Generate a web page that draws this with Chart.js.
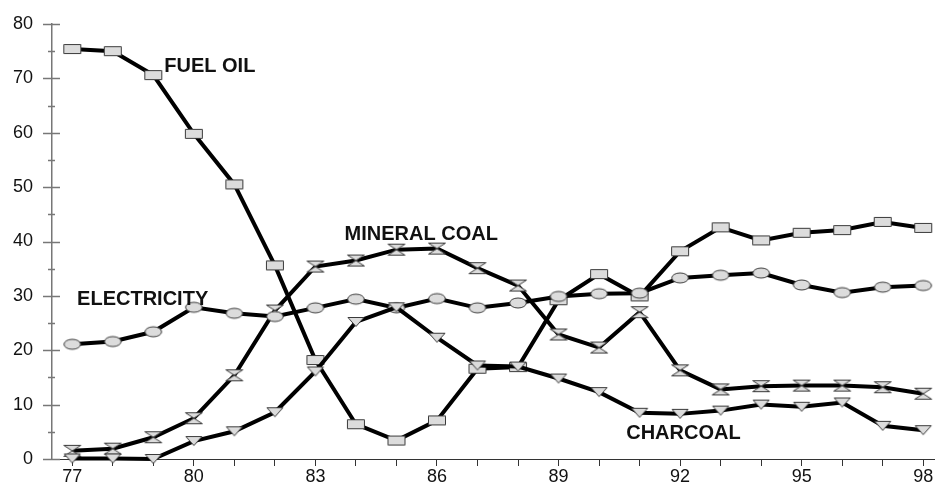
<!DOCTYPE html>
<html>
<head>
<meta charset="utf-8">
<script src="https://cdn.jsdelivr.net/npm/chart.js@4.4.1/dist/chart.umd.min.js"></script>
<style>
  html, body { margin: 0; padding: 0; background: #fff; }
</style>
</head>
<body>
<canvas id="chart" width="935" height="485"></canvas>
<script>
const years = [77, 78, 79, 80, 81, 82, 83, 84, 85, 86, 87, 88, 89, 90, 91, 92, 93, 94, 95, 96, 97, 98];
const fuelOil     = [75.4, 75.0, 70.6, 59.8, 50.5, 35.6, 18.2, 6.4, 3.4, 7.1, 16.6, 16.9, 29.2, 34.0, 29.9, 38.2, 42.6, 40.2, 41.6, 42.1, 43.6, 42.5];
const electricity = [21.1, 21.6, 23.4, 27.9, 26.8, 26.2, 27.8, 29.4, 27.8, 29.5, 27.8, 28.7, 29.9, 30.4, 30.5, 33.3, 33.8, 34.2, 32.0, 30.6, 31.6, 31.9];
const mineralCoal = [1.5, 1.9, 4.0, 7.5, 15.4, 27.3, 35.4, 36.5, 38.5, 38.7, 35.1, 31.9, 22.9, 20.5, 27.0, 16.3, 12.8, 13.4, 13.5, 13.5, 13.2, 12.0];
const charcoal    = [0.1, 0.1, 0.0, 3.3, 5.1, 8.6, 16.1, 25.2, 27.9, 22.3, 17.2, 17.0, 14.8, 12.3, 8.5, 8.3, 8.9, 10.0, 9.6, 10.4, 6.1, 5.3];
const xTickLabels = [77, 80, 83, 86, 89, 92, 95, 98];
const yTickLabels = [0, 10, 20, 30, 40, 50, 60, 70, 80];

// series names written on the plot, anchored in data units
const seriesNotes = [
  { text: "FUEL OIL",     at: [79.27, 71.1] },
  { text: "MINERAL COAL", at: [83.72, 40.2] },
  { text: "ELECTRICITY",  at: [77.12, 28.4] },
  { text: "CHARCOAL",     at: [90.67, 3.6] }
];

const FONT = '"Liberation Sans", Arial, sans-serif';

function marker(kind) {
  const c = document.createElement("canvas");
  c.width = 20; c.height = 14;
  const g = c.getContext("2d");
  g.fillStyle = "#dcdcdc";
  g.strokeStyle = "#3a3a3a";
  g.lineWidth = 1;
  g.beginPath();
  if (kind === "rect") {
    g.rect(1.5, 2.5, 17, 9);
  } else if (kind === "ellipse") {
    g.ellipse(10, 7, 8.3, 5, 0, 0, Math.PI * 2);
  } else if (kind === "tri") {
    g.moveTo(2, 2.5); g.lineTo(18, 2.5); g.lineTo(10, 11.5); g.closePath();
  } else if (kind === "hour") {
    g.moveTo(1.5, 1.5); g.lineTo(18.5, 1.5); g.lineTo(1.5, 12.5); g.lineTo(18.5, 12.5); g.closePath();
  }
  g.fill();
  g.stroke();
  return c;
}

function series(label, values, kind) {
  return {
    label: label,
    data: years.map((yr, i) => ({ x: yr, y: values[i] })),
    borderColor: "#000",
    borderWidth: 4,
    tension: 0,
    fill: false,
    clip: false,
    pointStyle: marker(kind),
    pointRadius: 9,
    pointHoverRadius: 9
  };
}

const axisMarks = {
  id: "axisMarks",
  beforeDatasetsDraw(chart) {
    const ctx = chart.ctx, ys = chart.scales.y;
    ctx.save();
    ctx.strokeStyle = "#777";
    ctx.lineWidth = 1.5;
    for (let v = 0; v <= 80; v += 5) {
      const py = Math.round(ys.getPixelForValue(v)) + 0.5;
      const major = v % 10 === 0;
      ctx.beginPath();
      ctx.moveTo(ys.right - (major ? 9 : 4), py);
      ctx.lineTo(ys.right + (major ? 8 : 3), py);
      ctx.stroke();
    }
    ctx.restore();
  },
  afterDatasetsDraw(chart) {
    const ctx = chart.ctx, xs = chart.scales.x, ys = chart.scales.y;
    ctx.save();
    ctx.fillStyle = "#111";
    ctx.font = "bold 20px " + FONT;
    ctx.textAlign = "left";
    ctx.textBaseline = "alphabetic";
    for (const n of seriesNotes) {
      ctx.fillText(n.text, xs.getPixelForValue(n.at[0]), ys.getPixelForValue(n.at[1]));
    }
    ctx.restore();
  }
};

new Chart(document.getElementById("chart"), {
  type: "line",
  data: {
    datasets: [
      series("CHARCOAL", charcoal, "tri"),
      series("ELECTRICITY", electricity, "ellipse"),
      series("MINERAL COAL", mineralCoal, "hour"),
      series("FUEL OIL", fuelOil, "rect")
    ]
  },
  options: {
    responsive: false,
    animation: false,
    devicePixelRatio: 1,
    layout: { autoPadding: false, padding: { top: 24, right: 0, left: 0, bottom: 0 } },
    plugins: { legend: { display: false }, tooltip: { enabled: false } },
    scales: {
      x: {
        type: "linear",
        min: 76.5,
        max: 98.29,
        afterBuildTicks: s => { s.ticks = years.map(v => ({ value: v })); },
        afterFit: s => { s.height = 26; },
        grid: { display: true, drawOnChartArea: false, drawTicks: true, tickLength: 7, color: "#333", lineWidth: 1 },
        border: { display: true, color: "#333", width: 1 },
        ticks: {
          autoSkip: false,
          maxRotation: 0,
          padding: 0,
          color: "#111",
          font: { size: 18, family: FONT },
          callback: v => xTickLabels.includes(v) ? String(v) : ""
        }
      },
      y: {
        min: 0,
        max: 80,
        afterBuildTicks: s => { s.ticks = yTickLabels.map(v => ({ value: v })); },
        afterFit: s => { s.width = 52; },
        grid: { display: true, drawOnChartArea: false, drawTicks: true, tickLength: 17, color: "rgba(0,0,0,0)" },
        border: { display: true, color: "#777", width: 1.5 },
        ticks: {
          padding: 2,
          color: "#111",
          font: { size: 18, family: FONT }
        }
      }
    }
  },
  plugins: [axisMarks]
});
</script>
</body>
</html>
